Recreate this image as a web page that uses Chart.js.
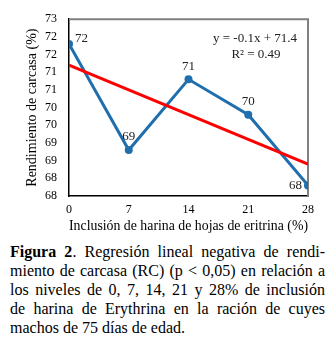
<!DOCTYPE html>
<html>
<head>
<meta charset="utf-8">
<script src="https://cdn.jsdelivr.net/npm/chart.js@4/dist/chart.umd.min.js"></script>
<style>
  body { margin: 0; background: #fff; }
  #wrap { position: relative; width: 333px; height: 236px; }
  #caption { width: 315px; margin: 6px 0 0 10px; font-family: 'Liberation Serif', 'Times New Roman', serif; font-size: 16px; line-height: 19px; color: #000; }
  #caption div { text-align: justify; text-align-last: justify; white-space: nowrap; }
  #caption div.last { text-align-last: left; }
</style>
</head>
<body>
<div id="wrap"><canvas id="chart"></canvas></div>
<div id="caption">
  <div><b>Figura 2</b>. Regresión lineal negativa de rendi-</div>
  <div>miento de carcasa (RC) (p &lt; 0,05) en relación a</div>
  <div>los niveles de 0, 7, 14, 21 y 28% de inclusión</div>
  <div>de harina de Erythrina en la ración de cuyes</div>
  <div class="last">machos de 75 días de edad.</div>
</div>
<script>
// Datos del gráfico
const inclusion = [0, 7, 14, 21, 28];
const rendimiento = [71.8, 68.8, 70.8, 69.8, 67.8];
const yMin = 67.5, yMax = 72.5, yStep = 0.5;
const ecuacion = ['y = -0.1x + 71.4', 'R² = 0.49'];

const serif = "'Liberation Serif', 'Times New Roman', serif";
const azul = '#1F6FAE';

// Recta de regresión calculada a partir de los datos
function regresion(xs, ys) {
    const n = xs.length;
    const mx = xs.reduce((a, b) => a + b, 0) / n;
    const my = ys.reduce((a, b) => a + b, 0) / n;
    let sxy = 0, sxx = 0;
    for (let i = 0; i < n; i++) {
        sxy += (xs[i] - mx) * (ys[i] - my);
        sxx += (xs[i] - mx) * (xs[i] - mx);
    }
    const m = sxy / sxx;
    return { m: m, b: my - m * mx };
}
const reg = regresion(inclusion, rendimiento);
const xFirst = inclusion[0], xLast = inclusion[inclusion.length - 1];
const tendencia = [
    { x: xFirst, y: reg.b + reg.m * xFirst },
    { x: xLast, y: reg.b + reg.m * xLast }
];

// Marco gris (arriba y derecha) y etiquetas
const extras = {
    id: 'extras',
    beforeDatasetsDraw(chart) {
        const { ctx, chartArea: a } = chart;
        ctx.save();
        ctx.strokeStyle = '#808080';
        ctx.lineWidth = 2;
        ctx.beginPath();
        ctx.moveTo(a.left, a.top);
        ctx.lineTo(a.right, a.top);
        ctx.lineTo(a.right, a.bottom);
        ctx.stroke();
        ctx.restore();
    },
    afterDatasetsDraw(chart) {
        const { ctx, chartArea: a } = chart;
        const meta = chart.getDatasetMeta(0);
        ctx.save();
        ctx.fillStyle = '#222';
        ctx.font = '13px ' + serif;
        ctx.textBaseline = 'middle';
        meta.data.forEach((pt, i) => {
            const txt = String(Math.round(rendimiento[i]));
            if (i === 0) {
                ctx.textAlign = 'left';
                ctx.fillText(txt, pt.x + 6, pt.y - 5);
            } else if (i === meta.data.length - 1) {
                ctx.textAlign = 'right';
                ctx.fillText(txt, pt.x - 6, pt.y);
            } else {
                ctx.textAlign = 'center';
                ctx.fillText(txt, pt.x, pt.y - 13);
            }
        });
        ctx.textAlign = 'center';
        ctx.fillText(ecuacion[0], a.right - 53, a.top + 19);
        ctx.fillText(ecuacion[1], a.right - 52, a.top + 35);
        ctx.restore();
    }
};

new Chart(document.getElementById('chart'), {
    type: 'line',
    data: {
        datasets: [
            {
                data: inclusion.map((x, i) => ({ x: x, y: rendimiento[i] })),
                borderColor: azul,
                backgroundColor: azul,
                borderWidth: 3,
                pointRadius: 4,
                pointBorderWidth: 0,
                tension: 0,
                order: 2
            },
            {
                data: tendencia,
                borderColor: '#FF0000',
                borderWidth: 3,
                pointRadius: 0,
                order: 1
            }
        ]
    },
    options: {
        responsive: true,
        maintainAspectRatio: false,
        animation: false,
        layout: { padding: { left: 20, top: 16, right: 25, bottom: 0 } },
        plugins: { legend: { display: false }, tooltip: { enabled: false } },
        scales: {
            x: {
                type: 'linear',
                min: xFirst,
                max: xLast,
                afterBuildTicks: s => { s.ticks = inclusion.map(v => ({ value: v })); },
                afterFit: s => { s.height = 40; },
                grid: { display: false, drawTicks: false },
                border: { color: '#000', width: 1.5 },
                ticks: { color: '#000', padding: 7, autoSkip: false, maxRotation: 0, font: { family: serif, size: 12 } },
                title: {
                    display: true,
                    text: 'Inclusión de harina de hojas de eritrina (%)',
                    color: '#000',
                    padding: { top: 0, bottom: 1 },
                    font: { family: serif, size: 14 }
                }
            },
            y: {
                min: yMin,
                max: yMax,
                afterFit: s => { s.width = 49; },
                grid: { display: false, drawTicks: false },
                border: { color: '#000', width: 1.5 },
                ticks: {
                    stepSize: yStep,
                    autoSkip: false,
                    color: '#000',
                    padding: 12,
                    font: { family: serif, size: 12 },
                    callback: v => Math.round(v)
                },
                title: {
                    display: true,
                    text: 'Rendimiento de carcasa (%)',
                    color: '#000',
                    font: { family: serif, size: 14 }
                }
            }
        }
    },
    plugins: [extras]
});
</script>
</body>
</html>
